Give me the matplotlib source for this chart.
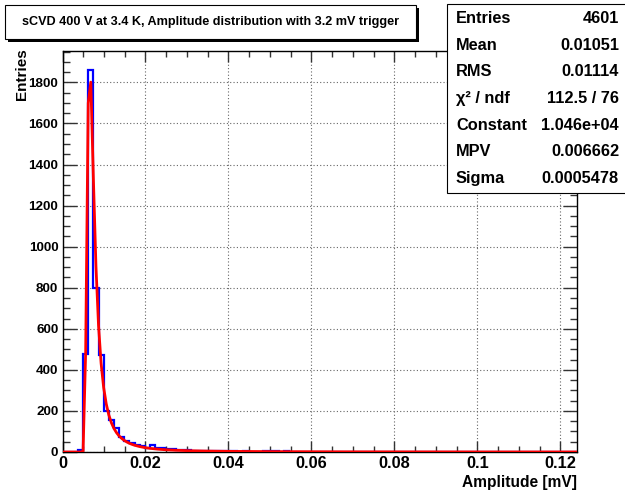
import numpy as np
import matplotlib
matplotlib.use("Agg")
import matplotlib.pyplot as plt
from matplotlib.patches import Rectangle

plt.rcParams['font.family'] = ['Liberation Sans', 'DejaVu Sans']
plt.rcParams['font.weight'] = 'bold'

# ---------------- data ----------------
x_min, x_max, n_bins = 0.0, 0.124, 100
counts = [0, 0, 0, 12, 476, 1860, 800, 471, 198, 157,
          116, 75, 55, 44, 36, 28, 20, 32, 19, 18,
          14, 14, 12, 12, 8, 7, 6, 5, 6, 4,
          5, 6, 6, 3, 2, 3, 2, 2, 2, 3,
          3, 3, 1, 3, 2, 1, 2, 2, 1, 1,
          1, 1, 2, 2, 1, 1, 0, 1, 1, 0,
          1, 1, 0, 1, 0, 1, 0, 1, 0, 1,
          0, 1, 0, 0, 1, 0, 0, 1, 0, 0,
          1, 0, 0, 1, 0, 0, 2, 0, 0, 0,
          0, 0, 0, 0, 0, 0, 0, 0, 0, 0]

fit_constant = 1.046e4
fit_mpv = 0.006662
fit_sigma = 0.0005478
fit_npx = 200

title = "sCVD 400 V at 3.4 K, Amplitude distribution with 3.2 mV trigger"
stats_names = ["Entries", "Mean", "RMS", "\u03c7\u00b2 / ndf", "Constant", "MPV", "Sigma"]
stats_values = ["4601", "0.01051", "0.01114", "112.5 / 76", "1.046e+04", "0.006662", "0.0005478"]

x_ticks = [0, 0.02, 0.04, 0.06, 0.08, 0.1, 0.12]
x_ticklabels = ["0", "0.02", "0.04", "0.06", "0.08", "0.1", "0.12"]
y_ticks = [0, 200, 400, 600, 800, 1000, 1200, 1400, 1600, 1800]


# ---------------- Landau (ROOT convention, unnormalised) ----------------
def landau_std(lam):
    out = np.zeros_like(lam)
    t = np.linspace(0, 60, 300001)[1:]
    base = -t * np.log(t)
    s = np.sin(np.pi * t)
    for i, l in enumerate(lam):
        if l < -3.0:
            u = np.exp(l + 1)
            if u < 1e-10:
                out[i] = 0.0
            else:
                out[i] = 0.3989422803 * np.exp(-1 / u) / np.sqrt(u) * \
                    (1 + (0.04166666667 + (-0.01996527778 + 0.02709538966 * u) * u) * u)
        else:
            out[i] = np.trapezoid(np.exp(base - l * t) * s, t) / np.pi
    return out


edges = np.linspace(x_min, x_max, n_bins + 1)
xfit = np.linspace(x_min, x_max, fit_npx + 1)
yfit = fit_constant * landau_std((xfit - fit_mpv) / fit_sigma)

# ---------------- figure ----------------
W, H = 625, 493
fig = plt.figure(figsize=(W / 100, H / 100), dpi=100)
ax = fig.add_axes([62.5 / W, 1 - 452 / H, (577 - 62.5) / W, (452 - 51) / H])

ax.stairs(counts, edges, color='#0000ff', lw=1.6, zorder=3)
ax.plot(xfit, yfit, color='#ff0000', lw=2.0, zorder=4)

ax.set_xlim(x_min, x_max)
ax.set_ylim(0, 1953)

ax.set_xticks(x_ticks)
ax.set_xticklabels(x_ticklabels)
ax.set_xticks(np.arange(0, 0.1241, 0.005), minor=True)
ax.set_yticks(y_ticks)
ax.set_yticks(np.arange(0, 1951, 50), minor=True)

ax.tick_params(axis='both', which='both', direction='in', top=True, right=True,
               width=1.0, color='#333333')
ax.tick_params(axis='x', which='major', length=8, labelsize=11.8, pad=3)
ax.tick_params(axis='x', which='minor', length=4.3)
ax.tick_params(axis='y', which='major', length=10, labelsize=9.7, pad=3)
ax.tick_params(axis='y', which='minor', length=5)
for lab in ax.get_xticklabels() + ax.get_yticklabels():
    lab.set_fontweight('bold')

ax.grid(True, which='major', color='#666666', linestyle=(0, (1, 2)), lw=0.8)
for sp in ax.spines.values():
    sp.set_linewidth(1.0)

fig.text(22 / W, 1 - 48 / H, "Entries", rotation=90, ha='center', va='top',
         fontsize=11, fontweight='bold')
fig.text(577 / W, 1 - 482 / H, "Amplitude [mV]", ha='right', va='center',
         fontsize=11.2, fontweight='bold')

# title box with shadow
tx0, ty0, tx1, ty1 = 5, 5, 416, 39
fig.patches.append(Rectangle(((tx0 + 3) / W, 1 - (ty1 + 3) / H), (tx1 - tx0) / W,
                             (ty1 - ty0) / H, transform=fig.transFigure,
                             facecolor='black', edgecolor='black', lw=0))
fig.patches.append(Rectangle((tx0 / W, 1 - ty1 / H), (tx1 - tx0) / W, (ty1 - ty0) / H,
                             transform=fig.transFigure, facecolor='white',
                             edgecolor='black', lw=0.8))
fig.text((tx0 + tx1) / 2 / W, 1 - (ty0 + ty1) / 2 / H, title, ha='center', va='center',
         fontsize=9.1, fontweight='bold')

# stats box
sx0, sy0, sx1, sy1 = 447, 4, 640, 193
fig.patches.append(Rectangle((sx0 / W, 1 - sy1 / H), (sx1 - sx0) / W, (sy1 - sy0) / H,
                             transform=fig.transFigure, facecolor='white',
                             edgecolor='black', lw=0.8, zorder=5))
for i, (n, v) in enumerate(zip(stats_names, stats_values)):
    yy = 18.3 + 26.7 * i
    fig.text(456 / W, 1 - yy / H, n, ha='left', va='center', fontsize=11.8,
             fontweight='bold', zorder=6)
    fig.text(619 / W, 1 - yy / H, v, ha='right', va='center', fontsize=11.8,
             fontweight='bold', zorder=6)

fig.savefig("out.png", dpi=100)
